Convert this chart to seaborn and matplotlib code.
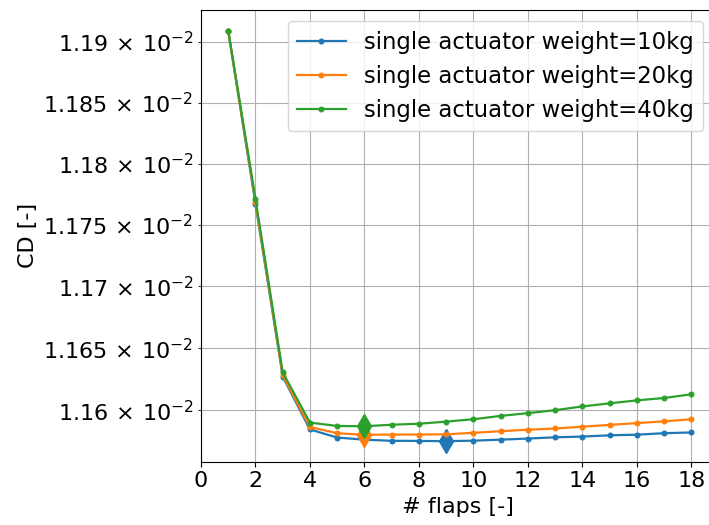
import matplotlib
matplotlib.use("Agg")
import matplotlib.pyplot as plt
import matplotlib.ticker as mticker
import seaborn as sns
import numpy as np
import pandas as pd

flaps = list(range(1, 19))
cd_10kg = [0.0119090, 0.0117670, 0.0116270, 0.0115845, 0.0115780, 0.0115763,
           0.0115754, 0.0115753, 0.0115751, 0.0115755, 0.0115763, 0.0115772,
           0.0115782, 0.0115788, 0.0115798, 0.0115803, 0.0115815, 0.0115821]
cd_20kg = [0.0119088, 0.0117690, 0.0116281, 0.0115864, 0.0115815, 0.0115802,
           0.0115804, 0.0115804, 0.0115806, 0.0115818, 0.0115831, 0.0115843,
           0.0115853, 0.0115867, 0.0115882, 0.0115896, 0.0115910, 0.0115927]
cd_40kg = [0.0119094, 0.0117713, 0.0116304, 0.0115900, 0.0115873, 0.0115871,
           0.0115883, 0.0115891, 0.0115908, 0.0115927, 0.0115954, 0.0115976,
           0.0116000, 0.0116030, 0.0116055, 0.0116079, 0.0116098, 0.0116128]
series_labels = ["single actuator weight=10kg",
                 "single actuator weight=20kg",
                 "single actuator weight=40kg"]
colors = sns.color_palette("tab10", 3)

fig = plt.figure(figsize=(7.09, 5.25), dpi=100)
ax = fig.add_axes([201 / 709, 63.3 / 525, 513.5 / 709, 451.7 / 525])
ax.set_yscale("log")

for vals, lab, c in zip([cd_10kg, cd_20kg, cd_40kg], series_labels, colors):
    sns.lineplot(x=flaps, y=vals, color=c, marker=".", markersize=7,
                 markeredgecolor=c, markeredgewidth=0.8, linewidth=1.6,
                 label=lab, ax=ax)
    i = int(np.argmin(vals))
    ax.plot([flaps[i]], [vals[i]], marker="d", markersize=12, color=c,
            linestyle="none")


def sci_fmt(v, pos=None):
    if v <= 0:
        return ""
    e = int(np.floor(np.log10(v) + 1e-12))
    m = v / 10 ** e
    ms = f"{m:.4f}".rstrip("0").rstrip(".")
    return r"$\mathdefault{%s\,\times\,10^{%d}}$" % (ms, e)


ax.yaxis.set_minor_formatter(mticker.FuncFormatter(sci_fmt))
ax.yaxis.set_major_formatter(mticker.FuncFormatter(sci_fmt))

ax.set_xlim(left=0)
ax.set_xticks(range(0, 19, 2))
ax.grid(True, which="both", color="#b0b0b0", linewidth=0.8)
ax.tick_params(labelsize=16, which="both")
ax.set_xlabel("# flaps [-]", fontsize=16)
ax.set_ylabel("CD [-]", fontsize=16)
ax.legend(loc="upper right", fontsize=16.4, labelspacing=0.5,
          handlelength=2.15)

fig.savefig("out.png", dpi=100)
